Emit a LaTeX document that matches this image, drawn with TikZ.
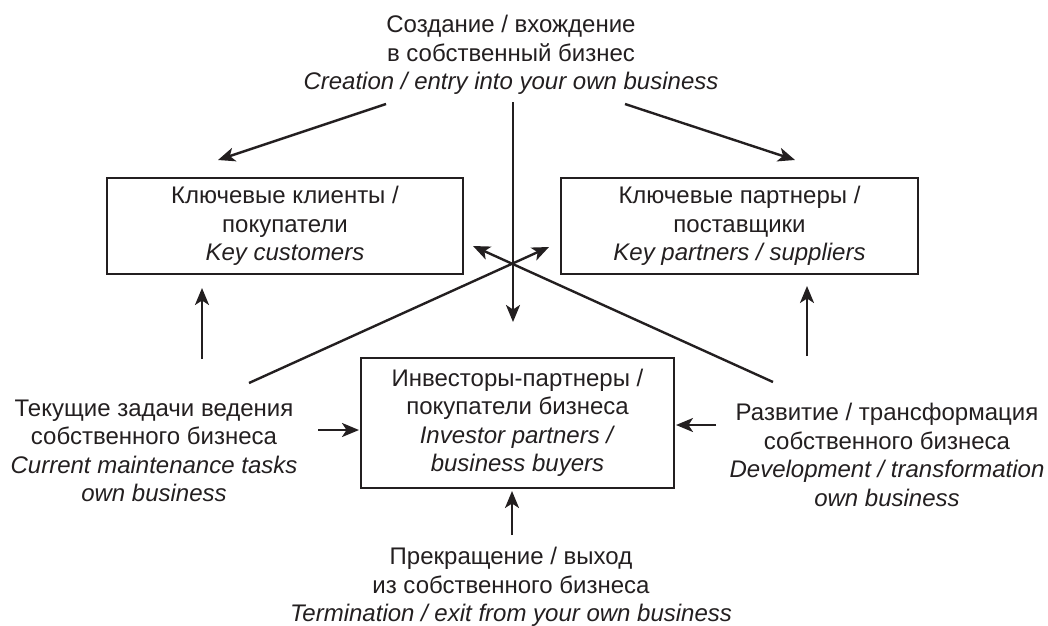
\documentclass[tikz,border=0pt]{standalone}
\usepackage{fontspec}
\setmainfont{Liberation Sans}
\usetikzlibrary{arrows.meta}
\definecolor{ink}{RGB}{35,31,32}
\begin{document}
\begin{tikzpicture}[x=1pt,y=-1pt,
  every node/.style={text=ink, font=\fontsize{24}{28.5}\selectfont, align=center, inner sep=0pt},
  boxnode/.style={draw=ink, line width=2.6pt, minimum width=#1},
  conn/.style={draw=ink, line width=2.4pt, -{Stealth[length=17pt,width=14pt,inset=4.5pt]}},
  plainline/.style={draw=ink, line width=2.4pt}]
\useasboundingbox (0,0) rectangle (1048,625);

% text blocks
\node (top) at (511,55) {Создание / вхождение\\в собственный бизнес\\\textit{Creation / entry into your own business}};
\node (left) at (154,451) {Текущие задачи ведения\\собственного бизнеса\\\textit{Current maintenance tasks}\\\textit{own business}};
\node (right) at (887,455) {Развитие / трансформация\\собственного бизнеса\\\textit{Development / transformation}\\\textit{own business}};
\node (bottom) at (511,587) {Прекращение / выход\\из собственного бизнеса\\\textit{Termination / exit from your own business}};

% boxes
\node[boxnode=356pt, minimum height=96pt] (cust) at (285,226) {Ключевые клиенты /\\покупатели\\\textit{Key customers}};
\node[boxnode=357pt, minimum height=96pt] (part) at (739.5,226) {Ключевые партнеры /\\поставщики\\\textit{Key partners / suppliers}};
\node[boxnode=313pt, minimum height=130pt] (inv) at (517.5,423) {Инвесторы-партнеры /\\покупатели бизнеса\\\textit{Investor partners /}\\\textit{business buyers}};

% connector end points
\coordinate (tlA) at (386,104); \coordinate (tlB) at (218,160);
\coordinate (trA) at (625,104); \coordinate (trB) at (795,160);
\coordinate (vA) at (513,102);  \coordinate (vB) at (513,322);
\coordinate (dlA) at (249,383); \coordinate (dlB) at (549,247);
\coordinate (drA) at (773,382); \coordinate (drB) at (473,246);
\coordinate (luA) at (202,359); \coordinate (luB) at (202,288);
\coordinate (ruA) at (807,356); \coordinate (ruB) at (807,286);
\coordinate (lhA) at (318,430); \coordinate (lhB) at (359,430);
\coordinate (rhA) at (716,425); \coordinate (rhB) at (676,425);
\coordinate (buA) at (512,535); \coordinate (buB) at (512,491);

\draw[conn] (tlA) -- (tlB);
\draw[conn] (trA) -- (trB);
\draw[conn] (vA) -- (vB);
\draw[conn] (dlA) -- (dlB);
\draw[conn] (drA) -- (drB);
\draw[conn] (luA) -- (luB);
\draw[conn] (ruA) -- (ruB);
\draw[conn] (lhA) -- (lhB);
\draw[conn] (rhA) -- (rhB);
\draw[conn] (buA) -- (buB);
\end{tikzpicture}
\end{document}
